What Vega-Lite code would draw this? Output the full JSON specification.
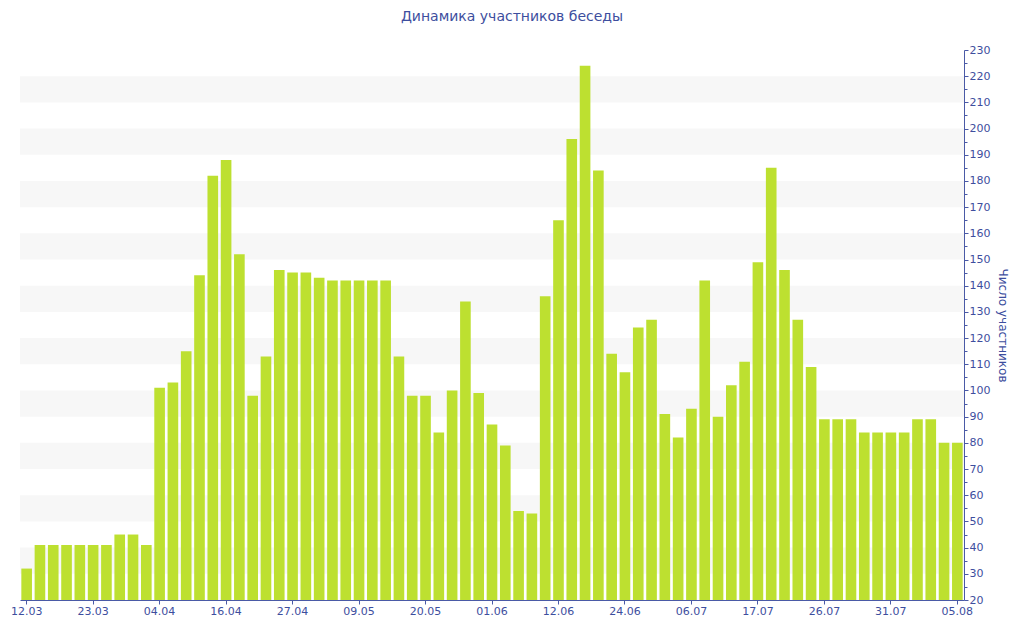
{
  "$schema": "https://vega.github.io/schema/vega-lite/v6.json",
  "autosize": {"type": "none"},
  "width": 944,
  "height": 550,
  "padding": {"left": 20, "top": 50, "right": 60, "bottom": 40},
  "background": "white",
  "title": {
    "text": "Динамика участников беседы",
    "font": "DejaVu Sans",
    "fontSize": 14,
    "fontWeight": "normal",
    "color": "#3d4e9e",
    "anchor": "middle",
    "offset": 20,
    "dx": 20
  },
  "config": {
    "view": {"stroke": null},
    "axis": {
      "labelFont": "DejaVu Sans",
      "labelFontSize": 11,
      "labelColor": "#3d4e9e",
      "titleFont": "DejaVu Sans",
      "titleFontWeight": "normal",
      "titleColor": "#3d4e9e",
      "domainColor": "#4a5aa6",
      "tickColor": "#4a5aa6",
      "grid": false,
      "labelOverlap": false,
      "labelFlush": false
    }
  },
  "datasets": {
    "stripes": [
      {"from": 30, "to": 40},
      {"from": 50, "to": 60},
      {"from": 70, "to": 80},
      {"from": 90, "to": 100},
      {"from": 110, "to": 120},
      {"from": 130, "to": 140},
      {"from": 150, "to": 160},
      {"from": 170, "to": 180},
      {"from": 190, "to": 200},
      {"from": 210, "to": 220}
    ],
    "members": [
      {"date": "12.03", "count": 32},
      {"date": "14.03", "count": 41},
      {"date": "16.03", "count": 41},
      {"date": "18.03", "count": 41},
      {"date": "20.03", "count": 41},
      {"date": "23.03", "count": 41},
      {"date": "25.03", "count": 41},
      {"date": "28.03", "count": 45},
      {"date": "30.03", "count": 45},
      {"date": "01.04", "count": 41},
      {"date": "04.04", "count": 101},
      {"date": "06.04", "count": 103},
      {"date": "09.04", "count": 115},
      {"date": "11.04", "count": 144},
      {"date": "13.04", "count": 182},
      {"date": "16.04", "count": 188},
      {"date": "18.04", "count": 152},
      {"date": "20.04", "count": 98},
      {"date": "22.04", "count": 113},
      {"date": "25.04", "count": 146},
      {"date": "27.04", "count": 145},
      {"date": "29.04", "count": 145},
      {"date": "02.05", "count": 143},
      {"date": "04.05", "count": 142},
      {"date": "06.05", "count": 142},
      {"date": "09.05", "count": 142},
      {"date": "11.05", "count": 142},
      {"date": "13.05", "count": 142},
      {"date": "15.05", "count": 113},
      {"date": "18.05", "count": 98},
      {"date": "20.05", "count": 98},
      {"date": "22.05", "count": 84},
      {"date": "25.05", "count": 100},
      {"date": "27.05", "count": 134},
      {"date": "29.05", "count": 99},
      {"date": "01.06", "count": 87},
      {"date": "03.06", "count": 79},
      {"date": "05.06", "count": 54},
      {"date": "07.06", "count": 53},
      {"date": "10.06", "count": 136},
      {"date": "12.06", "count": 165},
      {"date": "14.06", "count": 196},
      {"date": "17.06", "count": 224},
      {"date": "19.06", "count": 184},
      {"date": "21.06", "count": 114},
      {"date": "24.06", "count": 107},
      {"date": "26.06", "count": 124},
      {"date": "29.06", "count": 127},
      {"date": "01.07", "count": 91},
      {"date": "03.07", "count": 82},
      {"date": "06.07", "count": 93},
      {"date": "08.07", "count": 142},
      {"date": "10.07", "count": 90},
      {"date": "12.07", "count": 102},
      {"date": "15.07", "count": 111},
      {"date": "17.07", "count": 149},
      {"date": "19.07", "count": 185},
      {"date": "21.07", "count": 146},
      {"date": "23.07", "count": 127},
      {"date": "24.07", "count": 109},
      {"date": "26.07", "count": 89},
      {"date": "27.07", "count": 89},
      {"date": "28.07", "count": 89},
      {"date": "29.07", "count": 84},
      {"date": "30.07", "count": 84},
      {"date": "31.07", "count": 84},
      {"date": "01.08", "count": 84},
      {"date": "02.08", "count": 89},
      {"date": "03.08", "count": 89},
      {"date": "04.08", "count": 80},
      {"date": "05.08", "count": 80}
    ]
  },
  "layer": [
    {
      "data": {"name": "stripes"},
      "mark": {"type": "rect", "color": "#f7f7f7"},
      "encoding": {
        "y": {
          "field": "from",
          "type": "quantitative",
          "scale": {"domain": [20, 230], "zero": false, "nice": false},
          "axis": {
            "orient": "right",
            "title": "Число участников",
            "titleFontSize": 12,
            "titlePadding": 6,
            "values": [20, 25, 30, 35, 40, 45, 50, 55, 60, 65, 70, 75, 80, 85, 90, 95, 100, 105, 110, 115, 120, 125, 130, 135, 140, 145, 150, 155, 160, 165, 170, 175, 180, 185, 190, 195, 200, 205, 210, 215, 220, 225, 230],
            "labelExpr": "datum.value % 10 === 0 ? datum.label : ''",
            "labelOverlap": false,
            "tickSize": {"condition": {"test": "datum.value % 10 === 0", "value": 4}, "value": 3},
            "labelPadding": 1
          }
        },
        "y2": {"field": "to"}
      }
    },
    {
      "data": {"name": "members"},
      "mark": {"type": "bar", "color": "#bde030"},
      "encoding": {
        "x": {
          "field": "date",
          "type": "ordinal",
          "sort": null,
          "scale": {"paddingInner": 0.2, "paddingOuter": 0.1},
          "axis": {
            "title": null,
            "values": ["12.03", "23.03", "04.04", "16.04", "27.04", "09.05", "20.05", "01.06", "12.06", "24.06", "06.07", "17.07", "26.07", "31.07", "05.08"],
            "labelAngle": 0,
            "tickSize": 4,
            "labelPadding": 1
          }
        },
        "y": {
          "field": "count",
          "type": "quantitative",
          "scale": {"domain": [20, 230], "zero": false, "nice": false},
          "axis": {
            "orient": "right",
            "title": "Число участников",
            "titleFontSize": 12,
            "titlePadding": 6,
            "values": [20, 25, 30, 35, 40, 45, 50, 55, 60, 65, 70, 75, 80, 85, 90, 95, 100, 105, 110, 115, 120, 125, 130, 135, 140, 145, 150, 155, 160, 165, 170, 175, 180, 185, 190, 195, 200, 205, 210, 215, 220, 225, 230],
            "labelExpr": "datum.value % 10 === 0 ? datum.label : ''",
            "labelOverlap": false,
            "tickSize": {"condition": {"test": "datum.value % 10 === 0", "value": 4}, "value": 3},
            "labelPadding": 1
          }
        },
        "y2": {"datum": 20}
      }
    }
  ]
}
